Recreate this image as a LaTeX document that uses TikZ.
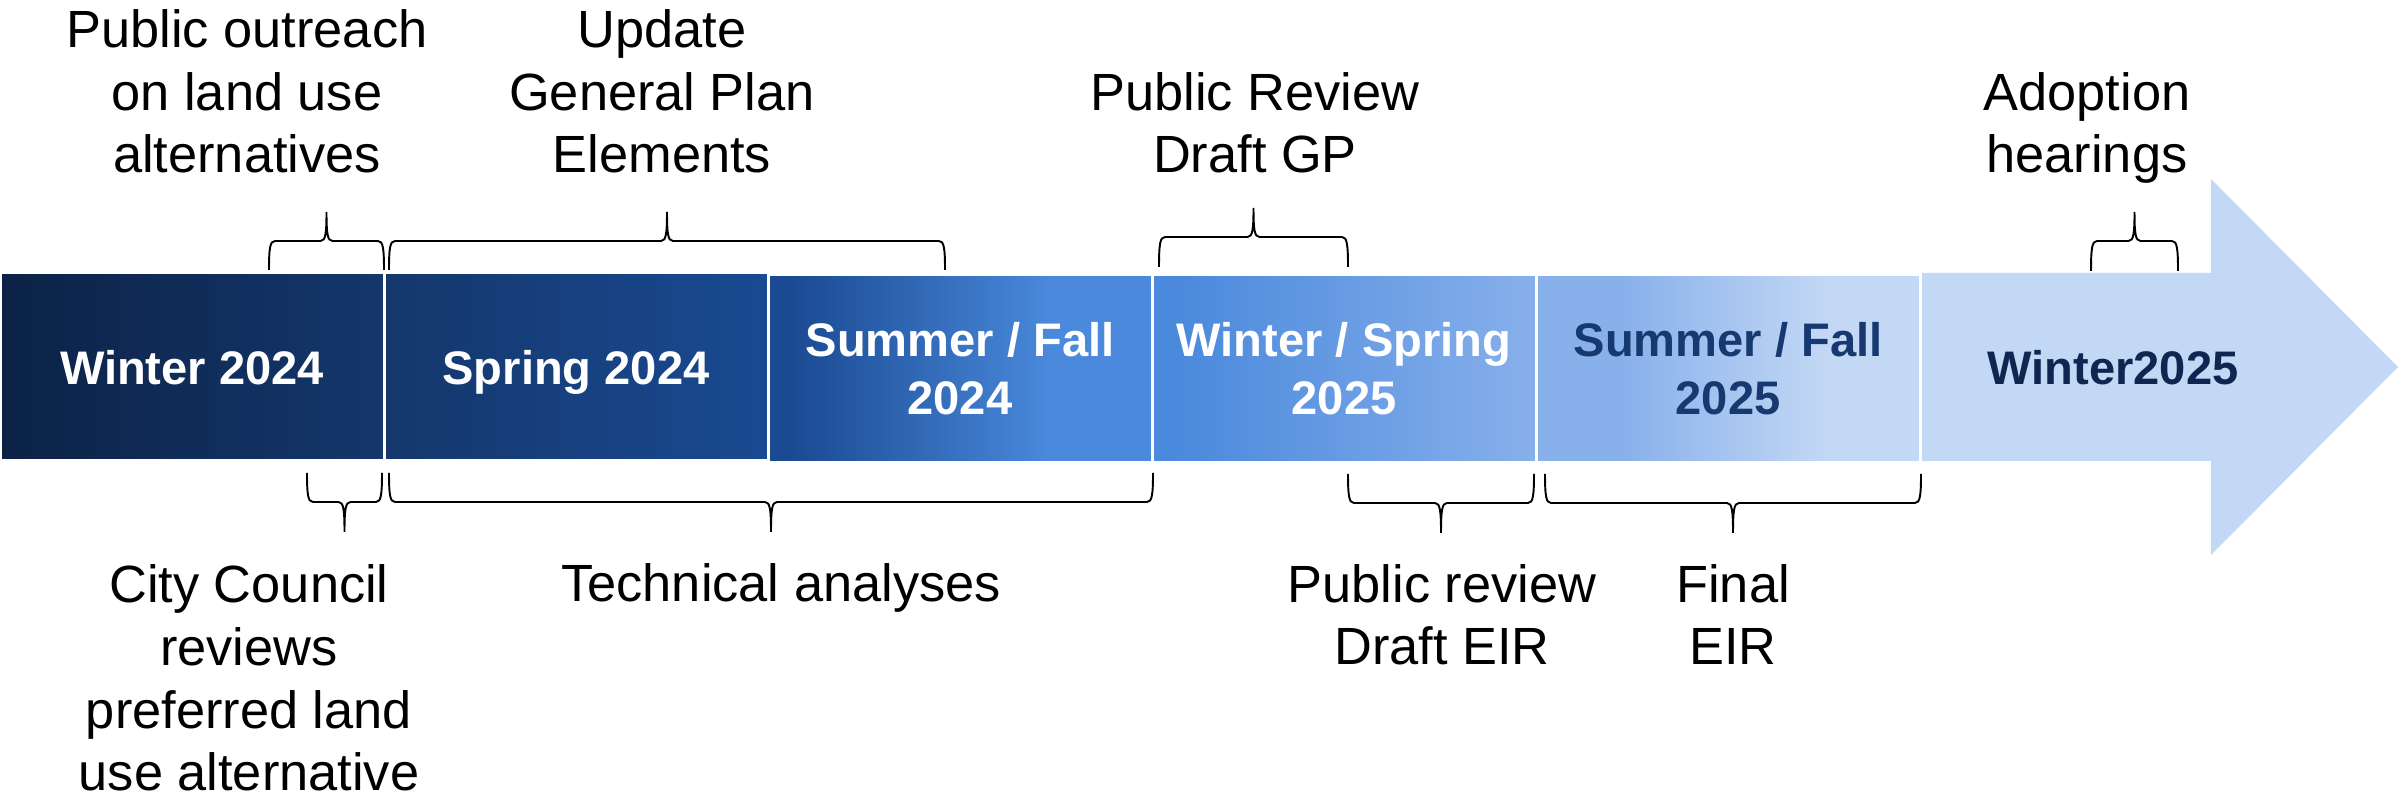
\documentclass[tikz,border=0pt]{standalone}
\usepackage{fontspec}
\setmainfont{Liberation Sans}
\definecolor{c0}{HTML}{0C2246}
\definecolor{c1}{HTML}{14376C}
\definecolor{c2}{HTML}{1A4A92}
\definecolor{c3}{HTML}{4A89DC}
\definecolor{c4}{HTML}{88B0EB}
\definecolor{c5}{HTML}{C3D8F5}
\definecolor{txtA}{HTML}{163A70}
\definecolor{txtB}{HTML}{0F2750}
\pgfdeclarehorizontalshading{shA}{100bp}{color(0bp)=(c0); color(25bp)=(c0); color(75bp)=(c1); color(100bp)=(c1)}
\pgfdeclarehorizontalshading{shB}{100bp}{color(0bp)=(c1); color(25bp)=(c1); color(75bp)=(c2); color(100bp)=(c2)}
\pgfdeclarehorizontalshading{shC}{100bp}{color(0bp)=(c2); color(25bp)=(c2); color(28bp)=(c2); color(62bp)=(c3); color(75bp)=(c3); color(100bp)=(c3)}
\pgfdeclarehorizontalshading{shD}{100bp}{color(0bp)=(c3); color(25bp)=(c3); color(28bp)=(c3); color(75bp)=(c4); color(100bp)=(c4)}
\pgfdeclarehorizontalshading{shE}{100bp}{color(0bp)=(c4); color(25bp)=(c4); color(36bp)=(c4); color(63bp)=(c5); color(75bp)=(c5); color(100bp)=(c5)}
\tikzset{
  seg/.style={rectangle, draw=white, line width=0.3mm, minimum width=38.4mm, minimum height=18.8mm,
    inner sep=0pt, text=white, align=center, font=\fontsize{13.4}{16.4}\selectfont\bfseries},
  lbl/.style={font=\fontsize{14.9}{17.9}\selectfont, align=center, anchor=base, inner sep=0pt},
  brc/.style={draw=black, line width=0.55pt}
}
% brace: x1, x2, yEnd, yMid, yTip
\newcommand\mybrace[5]{%
  \draw[brc] (#1,#3) .. controls (#1,{#4+0.25*(#3-#4)}) and ({#1+1},#4) .. ({#1+6},#4)
    -- ({(#1+#2)/2-6},#4) .. controls ({(#1+#2)/2-1},#4) and ({(#1+#2)/2},{#4-0.25*(#4-#5)}) .. ({(#1+#2)/2},#5)
    .. controls ({(#1+#2)/2},{#4-0.25*(#4-#5)}) and ({(#1+#2)/2+1},#4) .. ({(#1+#2)/2+6},#4)
    -- ({#2-6},#4) .. controls ({#2-1},#4) and (#2,{#4+0.25*(#3-#4)}) .. (#2,#3);}
\begin{document}
\begin{tikzpicture}[x=0.1mm, y=-0.1mm]
\useasboundingbox (0,0) rectangle (2402,803);
% arrow (last segment)
\fill[c5] (1920,273) -- (2211,273) -- (2211,179) -- (2398,367) -- (2211,555) -- (2211,461) -- (1920,461) -- cycle;
\node[font=\fontsize{13.4}{16.4}\selectfont\bfseries, text=txtB, text depth=0pt] (s6) at (2113,367) {Winter2025};
% segments
\node[seg, shade, shading=shA, text depth=0pt] (s1) at (192,367) {Winter 2024};
\node[seg, shade, shading=shB, text depth=0pt] (s2) at (576,367) {Spring 2024};
\node[seg, shade, shading=shC] (s3) at (960,369) {Summer / Fall\\2024};
\node[seg, shade, shading=shD] (s4) at (1344,369) {Winter / Spring\\2025};
\node[seg, shade, shading=shE, text=txtA] (s5) at (1728,369) {Summer / Fall\\2025};
% top labels (anchor = baseline of last line)
\node[lbl] (t1) at (247,173) {Public outreach\\on land use\\alternatives};
\node[lbl] (t2) at (662,173) {Update\\General Plan\\Elements};
\node[lbl] (t3) at (1255,173) {Public Review\\Draft GP};
\node[lbl] (t4) at (2087,173) {Adoption\\hearings};
% bottom labels
\node[lbl] (b1) at (249,791) {City Council\\reviews\\preferred land\\use alternative};
\node[lbl] (b2) at (781,602) {Technical analyses};
\node[lbl] (b3) at (1442,665) {Public review\\Draft EIR};
\node[lbl] (b4) at (1733,665) {Final\\EIR};
% braces
\mybrace{269}{384}{270}{241}{212}
\mybrace{389}{945}{270}{241}{212}
\mybrace{1159}{1348}{267}{237}{208}
\mybrace{2091}{2178}{271}{241}{212}
\mybrace{307}{382}{473}{502}{532}
\mybrace{389}{1153}{473}{502}{532}
\mybrace{1348}{1534}{474}{503}{533}
\mybrace{1545}{1921}{474}{503}{533}
\end{tikzpicture}
\end{document}
